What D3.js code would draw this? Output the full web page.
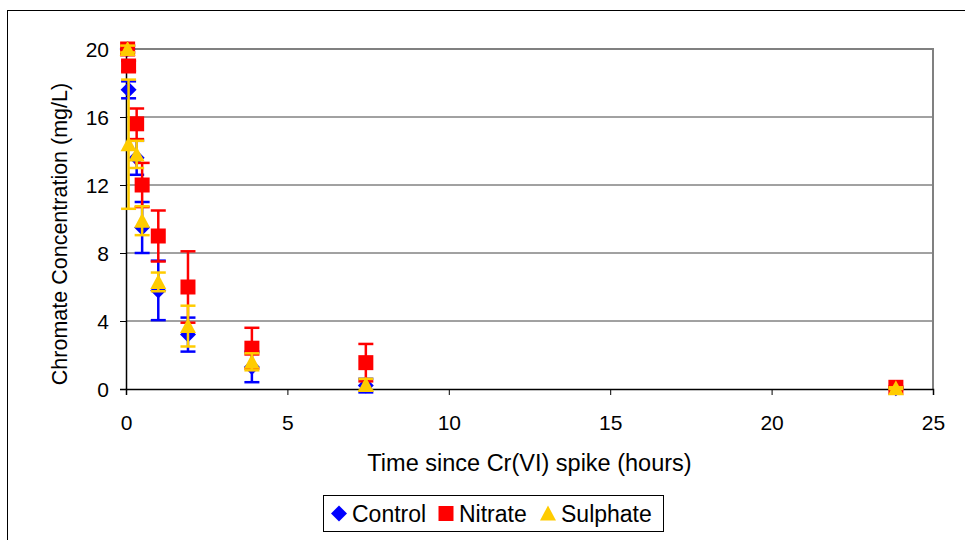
<!DOCTYPE html>
<html>
<head>
<meta charset="utf-8">
<script src="https://cdn.jsdelivr.net/npm/d3@7"></script>
<style>
  body { margin: 0; background: #fff; }
  text { font-family: "Liberation Sans", Arial, sans-serif; }
</style>
</head>
<body>
<div class="canvas"></div>
<script>
// sampling times (hours)
const times = [0.05, 0.08, 0.33, 0.5, 1, 1.92, 3.9, 7.43, 23.85];

// chromate (mg/L) and error per series
const control = [20, 17.6, 13.6, 9.5, 5.8, 3.2, 1.3, 0.2, 0.05];
const controlErr = [0.2, 0.5, 1.0, 1.5, 1.75, 1.0, 0.9, 0.4, 0.05];
const nitrate = [20, 19.0, 15.6, 12.0, 9.0, 6.0, 2.4, 1.55, 0.1];
const nitrateErr = [0.2, 0.3, 0.9, 1.3, 1.5, 2.1, 1.2, 1.1, 0.05];
const sulphate = [20, 14.4, 13.8, 9.9, 6.3, 3.7, 1.6, 0.25, 0.05];
const sulphateErr = [0.2, 3.8, 0.8, 0.85, 0.55, 1.2, 0.5, 0.35, 0.05];

const xTicks = [0, 5, 10, 15, 20, 25];
const yTicks = [0, 4, 8, 12, 16, 20];

const series = [
  { name: 'Control', vals: control, err: controlErr, color: '#0000ff', shape: 'diamond' },
  { name: 'Nitrate', vals: nitrate, err: nitrateErr, color: '#ff0000', shape: 'square' },
  { name: 'Sulphate', vals: sulphate, err: sulphateErr, color: '#ffcc00', shape: 'triangle' }
];

const svg = d3.select('.canvas')
  .append('svg')
    .attr('width', 965)
    .attr('height', 540);

// outer chart border
svg.append('rect')
  .attr('x', 7.5).attr('y', 10.5)
  .attr('width', 1000).attr('height', 600)
  .attr('fill', 'none').attr('stroke', '#000').attr('stroke-width', 1);

const pLeft = 126, pTop = 49, pRight = 933, pBottom = 389;

const x = d3.scaleLinear().domain([0, 25]).range([pLeft, pRight]);
const y = d3.scaleLinear().domain([0, 20]).range([pBottom, pTop]);

// gridlines
svg.append('g')
  .selectAll('line')
  .data(yTicks.slice(1))
  .enter()
  .append('line')
    .attr('x1', pLeft).attr('x2', pRight)
    .attr('y1', d => y(d)).attr('y2', d => y(d))
    .attr('stroke', '#444').attr('stroke-width', 1);

// plot border (top/right gray)
svg.append('path')
  .attr('d', `M${pLeft},${pTop}H${pRight}V${pBottom}`)
  .attr('fill', 'none').attr('stroke', '#808080').attr('stroke-width', 2);

// axes
const xAxis = d3.axisBottom(x).tickValues(xTicks).tickSize(6).tickPadding(20);
const yAxis = d3.axisLeft(y).tickValues(yTicks).tickSize(6).tickPadding(11);

const gx = svg.append('g').attr('transform', `translate(0,${pBottom})`).call(xAxis);
const gy = svg.append('g').attr('transform', `translate(${pLeft},0)`).call(yAxis);

[gx, gy].forEach(g => {
  g.select('.domain').attr('stroke', '#000').attr('stroke-width', 1.5);
  g.selectAll('.tick line').attr('stroke', '#000').attr('stroke-width', 1);
  g.selectAll('.tick text')
    .attr('font-size', 21)
    .attr('fill', '#000')
    .style('font-family', '"Liberation Sans", Arial, sans-serif');
});
gy.selectAll('.tick text').attr('dy', '0.36em');
gx.selectAll('.tick text').attr('dy', '0.71em');

// axis titles
svg.append('text')
  .attr('x', (pLeft + pRight) / 2)
  .attr('y', 471)
  .attr('text-anchor', 'middle')
  .attr('font-size', 23.5)
  .text('Time since Cr(VI) spike (hours)');

svg.append('text')
  .attr('transform', 'translate(67,234) rotate(-90)')
  .attr('text-anchor', 'middle')
  .attr('font-size', 21.5)
  .text('Chromate Concentration (mg/L)');

function shapePath(shape, cx, cy) {
  if (shape === 'diamond') {
    return `M${cx},${cy - 8}L${cx + 8},${cy}L${cx},${cy + 8}L${cx - 8},${cy}Z`;
  } else if (shape === 'square') {
    return `M${cx - 7.5},${cy - 7.5}h15v15h-15Z`;
  }
  return `M${cx},${cy - 8}L${cx + 8},${cy + 7}L${cx - 8},${cy + 7}Z`;
}

const plot = svg.append('g');

series.forEach(s => {
  const pts = times.map((t, i) => ({ t: t, v: s.vals[i], e: s.err[i] }));
  const g = plot.append('g');

  // error bars
  const eb = g.selectAll('g.err')
    .data(pts)
    .enter()
    .append('g');
  eb.append('line')
    .attr('x1', d => x(d.t)).attr('x2', d => x(d.t))
    .attr('y1', d => y(d.v + d.e)).attr('y2', d => y(Math.max(d.v - d.e, 0)))
    .attr('stroke', s.color).attr('stroke-width', 2.5);
  eb.append('line')
    .attr('x1', d => x(d.t) - 7.5).attr('x2', d => x(d.t) + 7.5)
    .attr('y1', d => y(d.v + d.e)).attr('y2', d => y(d.v + d.e))
    .attr('stroke', s.color).attr('stroke-width', 2.5);
  eb.append('line')
    .attr('x1', d => x(d.t) - 7.5).attr('x2', d => x(d.t) + 7.5)
    .attr('y1', d => y(d.v - d.e)).attr('y2', d => y(d.v - d.e))
    .attr('stroke', s.color).attr('stroke-width', 2.5);

  // markers
  g.selectAll('path.mark')
    .data(pts)
    .enter()
    .append('path')
      .attr('class', 'mark')
      .attr('d', d => shapePath(s.shape, x(d.t), y(d.v)))
      .attr('fill', s.color);
});

// legend
const legend = svg.append('g');
legend.append('rect')
  .attr('x', 323.5).attr('y', 495.5)
  .attr('width', 340).attr('height', 36)
  .attr('fill', '#fff').attr('stroke', '#000').attr('stroke-width', 1);

const legendX = [339, 446, 548];
series.forEach((s, i) => {
  legend.append('path')
    .attr('d', shapePath(s.shape, legendX[i], 513.5))
    .attr('fill', s.color);
  legend.append('text')
    .attr('x', legendX[i] + 13)
    .attr('y', 522)
    .attr('font-size', 23)
    .text(s.name);
});
</script>
</body>
</html>
